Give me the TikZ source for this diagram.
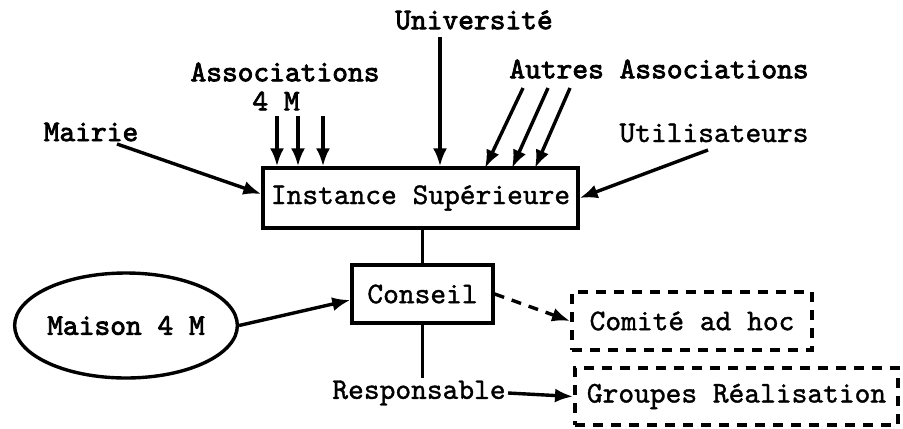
\documentclass[tikz,border=0pt]{standalone}
\usepackage{fontspec}
\setmainfont{lmmono10-regular.otf}[FakeBold=1.2,BoldFont=lmmono10-regular.otf,BoldFeatures={FakeBold=2.6}]
\usepackage{tikz}
\usetikzlibrary{arrows.meta,positioning,shapes.geometric}

\begin{document}
\begin{tikzpicture}[x=0.5pt,y=-0.5pt,
		font=\fontsize{15}{18}\selectfont,
		arr/.style={line width=1.7pt,-{Latex[length=9pt,width=7pt]}},
		box/.style={draw,line width=1.7pt,inner sep=0pt},
		dbox/.style={draw,line width=2pt,inner sep=0pt,dash pattern=on 5pt off 4pt},
		lbl/.style={inner sep=1pt,font=\fontsize{15}{18}\selectfont\bfseries}]
	\useasboundingbox (0,0) rectangle (903,428);

	% boxes
	\node[box,minimum width=157.5pt,minimum height=30pt] (inst) at (420.5,198) {Instance Supérieure};
	\node[box,minimum width=70.5pt,minimum height=29pt] (conseil) at (422.5,294) {Conseil};
	\node[dbox,minimum width=120pt,minimum height=29pt] (comite) at (692,321) {Comité ad hoc};
	\node[dbox,minimum width=161.5pt,minimum height=28.5pt] (groupes) at (736.5,396.5) {Groupes Réalisation};
	\node[ellipse,draw,line width=1.7pt,minimum width=104pt,minimum height=52.5pt,inner sep=0pt,font=\fontsize{15}{18}\selectfont\bfseries] (maison) at (126,325.5) {Maison 4 M};

	% labels
	\node[lbl] (univ) at (474,20) {Université};
	\node[lbl] (assoc) at (285,72) {Associations};
	\node[lbl] (quatreM) at (276,101) {4 M};
	\node[lbl] (autres) at (659,69) {Autres Associations};
	\node[inner sep=1pt] (utilis) at (714,133) {Utilisateurs};
	\node[lbl] (mairie) at (91,132) {Mairie};
	\node[inner sep=1pt] (respons) at (419,393) {Responsable};

	% free ends
	\coordinate (univA) at (440,37);
	\coordinate (mairieA) at (117,144);
	\coordinate (utilisA) at (708,150);

	\draw[arr] (univA) -- (univA |- inst.north);
	\draw[arr] (mairieA) -- ([yshift=2pt]inst.west);
	\draw[arr] (utilisA) -- (inst.east);
	\foreach \x in {277,298,323}{
		\coordinate (assocA) at (\x,116);
		\draw[arr] (assocA) -- (assocA |- inst.north);
	}
	\foreach \a/\b in {523/485,548/512,570/535}{
		\coordinate (autresA) at (\a,88);
		\coordinate (autresB) at (\b,168);
		\draw[arr] (autresA) -- (autresB);
	}

	\draw[line width=1.7pt] (conseil.north) -- (conseil.north |- inst.south);
	\draw[line width=1.7pt] (conseil.south) -- (conseil.south |- respons.north);
	\draw[arr] (maison.east) -- ([yshift=-3pt]conseil.west);
	\draw[arr,dash pattern=on 5pt off 4pt] (conseil.east) -- (comite.west);
	\draw[arr] (respons.east) -- (groupes.west);
\end{tikzpicture}
\end{document}
